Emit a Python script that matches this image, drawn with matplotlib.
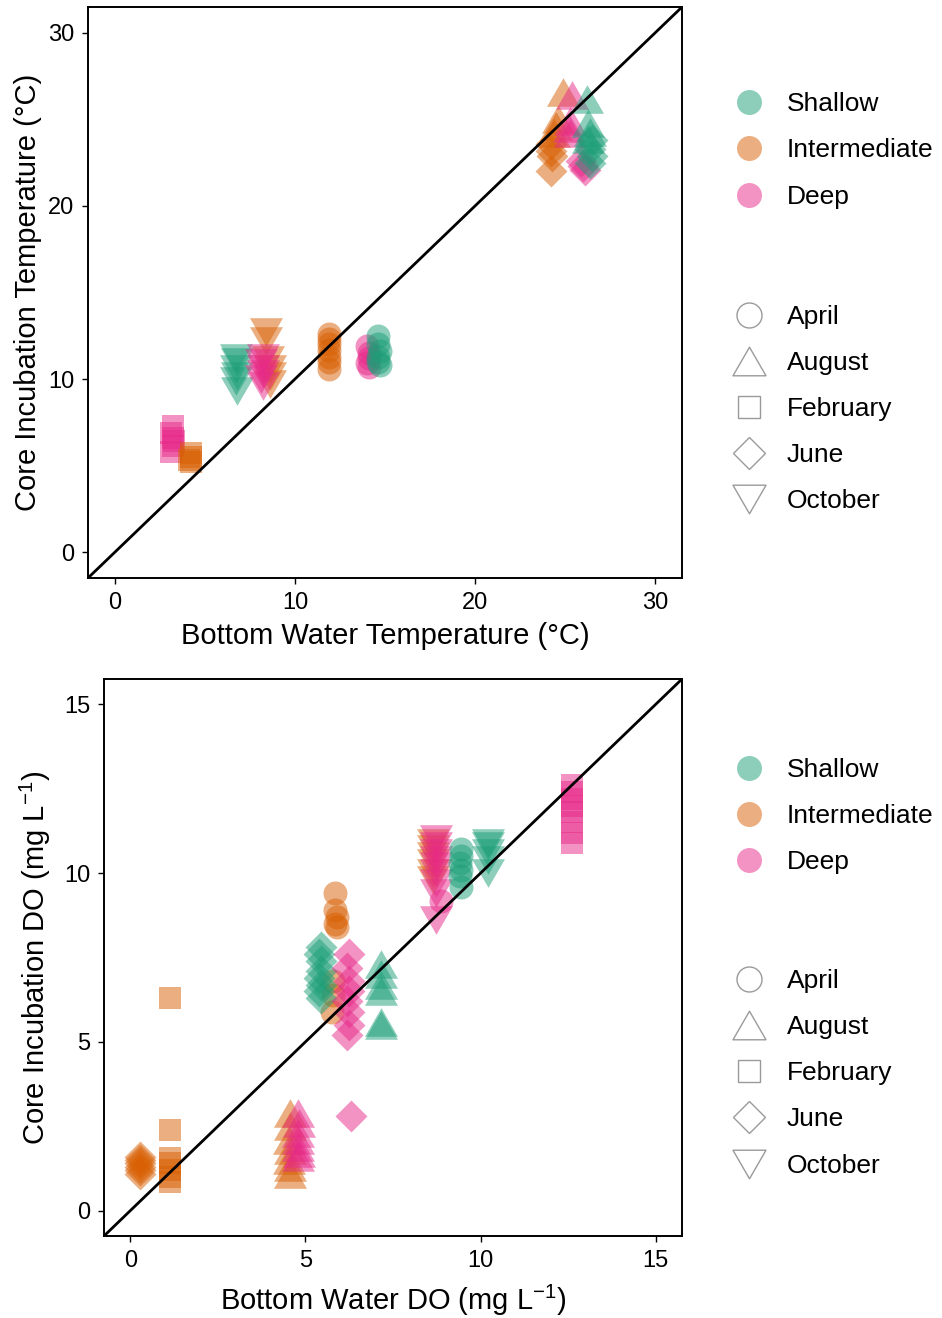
import matplotlib
matplotlib.use("Agg")
import matplotlib.pyplot as plt
from matplotlib.path import Path
from matplotlib.lines import Line2D
from matplotlib.colors import to_rgba
import pandas as pd

plt.rcParams['font.family'] = ['Liberation Sans', 'DejaVu Sans']
plt.rcParams['mathtext.default'] = 'regular'

# ---------------- categories ----------------
sites = ["Shallow", "Intermediate", "Deep"]
site_colors = ["#1B9E77", "#D95F02", "#E7298A"]
months = ["April", "August", "February", "June", "October"]

# ---------------- temperature panel (one entry per core) ----------------
temp_site = (["Deep"] * 6 + ["Intermediate"] * 4 + ["Shallow"] * 6 + ["Intermediate"] * 6 +
             ["Deep"] * 6 + ["Intermediate"] * 7 + ["Deep"] * 5 + ["Shallow"] * 6 +
             ["Intermediate"] * 4 + ["Intermediate"] * 4 + ["Deep"] * 3 + ["Deep"] * 4 +
             ["Shallow"] * 4 + ["Shallow"] * 4)
temp_month = (["February"] * 6 + ["February"] * 4 + ["October"] * 6 + ["October"] * 6 +
              ["October"] * 6 + ["April"] * 7 + ["April"] * 5 + ["April"] * 6 +
              ["June"] * 4 + ["August"] * 4 + ["June"] * 3 + ["August"] * 4 +
              ["August"] * 4 + ["June"] * 4)
temp_bottom = ([3.2, 3.1, 3.2, 3.3, 3.2, 3.1] +
               [4.2, 4.2, 4.1, 4.2] +
               [6.7, 6.8, 6.7, 6.8, 6.7, 6.8] +
               [8.4, 8.4, 8.5, 8.6, 8.6, 8.6] +
               [8.2, 8.1, 8.2, 8.2, 8.1, 8.2] +
               [11.9, 11.9, 11.9, 11.9, 11.9, 11.9, 11.9] +
               [14.0, 14.1, 14.1, 14.0, 14.1] +
               [14.6, 14.6, 14.7, 14.6, 14.6, 14.7] +
               [24.2, 24.2, 24.3, 24.2] +
               [24.9, 24.6, 24.5, 24.4] +
               [25.9, 26.0, 26.1] +
               [25.4, 25.3, 25.2, 25.3] +
               [26.2, 26.3, 26.4, 26.3] +
               [26.5, 26.4, 26.5, 26.4])
temp_core = ([7.3, 6.9, 6.6, 6.4, 6.1, 5.8] +
             [5.7, 5.5, 5.3, 5.2] +
             [11.2, 11.0, 10.6, 10.2, 9.9, 9.3] +
             [12.7, 12.2, 11.1, 10.6, 10.2, 9.7] +
             [11.2, 10.9, 10.6, 10.3, 10.0, 9.6] +
             [12.6, 12.3, 12.0, 11.7, 11.3, 11.0, 10.6] +
             [11.9, 11.5, 11.2, 10.9, 10.7] +
             [12.5, 12.0, 11.6, 11.3, 11.0, 10.8] +
             [23.6, 23.2, 22.9, 22.0] +
             [26.6, 25.0, 24.6, 24.2] +
             [22.6, 22.3, 22.1] +
             [26.4, 24.9, 24.5, 24.2] +
             [26.2, 24.8, 24.3, 23.9] +
             [23.8, 23.3, 22.9, 22.5])

# ---------------- dissolved oxygen panel ----------------
do_site = (["Intermediate"] * 6 + ["Intermediate"] * 7 + ["Intermediate"] * 7 + ["Deep"] * 7 +
           ["Intermediate"] * 8 + ["Shallow"] * 8 + ["Deep"] * 9 + ["Shallow"] * 6 +
           ["Intermediate"] * 6 + ["Deep"] * 9 + ["Deep"] * 1 + ["Shallow"] * 6 +
           ["Shallow"] * 5 + ["Deep"] * 8)
do_month = (["June"] * 6 + ["February"] * 7 + ["August"] * 7 + ["August"] * 7 +
            ["April"] * 8 + ["June"] * 8 + ["June"] * 9 + ["August"] * 6 +
            ["October"] * 6 + ["October"] * 9 + ["April"] * 1 + ["April"] * 6 +
            ["October"] * 5 + ["February"] * 8)
do_bottom = ([0.28, 0.27, 0.29, 0.28, 0.27, 0.29] +
             [1.14, 1.14, 1.14, 1.14, 1.14, 1.14, 1.14] +
             [4.55, 4.55, 4.52, 4.55, 4.52, 4.55, 4.55] +
             [4.8, 4.82, 4.8, 4.78, 4.8, 4.82, 4.8] +
             [5.85, 5.85, 5.9, 5.85, 5.9, 5.8, 5.8, 5.75] +
             [5.45, 5.4, 5.45, 5.45, 5.4, 5.45, 5.4, 5.45] +
             [6.25, 6.2, 6.25, 6.25, 6.2, 6.25, 6.25, 6.2, 6.3] +
             [7.15, 7.15, 7.15, 7.15, 7.15, 7.15] +
             [8.65, 8.65, 8.65, 8.65, 8.65, 8.65] +
             [8.72, 8.72, 8.72, 8.72, 8.72, 8.72, 8.72, 8.72, 8.72] +
             [8.86] +
             [9.43, 9.43, 9.4, 9.43, 9.4, 9.43] +
             [10.2, 10.2, 10.2, 10.2, 10.2] +
             [12.6, 12.6, 12.6, 12.6, 12.6, 12.6, 12.6, 12.6])
do_core = ([1.6, 1.5, 1.4, 1.3, 1.2, 1.1] +
           [6.3, 2.4, 1.55, 1.4, 1.2, 1.0, 0.85] +
           [2.9, 2.5, 2.1, 1.8, 1.5, 1.3, 1.1] +
           [2.9, 2.6, 2.3, 2.1, 1.9, 1.7, 1.6] +
           [9.4, 8.9, 8.7, 8.5, 8.4, 6.8, 6.4, 5.9] +
           [7.8, 7.6, 7.4, 7.1, 6.9, 6.7, 6.5, 6.3] +
           [7.6, 7.2, 6.8, 6.5, 6.2, 5.9, 5.5, 5.2, 2.8] +
           [7.3, 7.0, 6.7, 6.5, 5.6, 5.5] +
           [10.9, 10.7, 10.5, 10.3, 10.0, 9.8] +
           [11.0, 10.8, 10.6, 10.4, 10.2, 10.0, 9.7, 9.4, 8.6] +
           [9.17] +
           [10.7, 10.5, 10.3, 10.1, 9.9, 9.6] +
           [10.9, 10.8, 10.6, 10.4, 10.0] +
           [12.6, 12.4, 12.2, 12.0, 11.8, 11.5, 11.2, 10.9])

temp_ticks = [0, 10, 20, 30]
do_ticks = [0, 5, 10, 15]

# ---------------- styling ----------------
tri_up = Path([(-1, -0.866), (1, -0.866), (0, 0.866), (-1, -0.866)],
              [Path.MOVETO, Path.LINETO, Path.LINETO, Path.CLOSEPOLY])
tri_down = Path([(-1, 0.866), (1, 0.866), (0, -0.866), (-1, 0.866)],
                [Path.MOVETO, Path.LINETO, Path.LINETO, Path.CLOSEPOLY])
month_marker = {"April": "o", "August": tri_up, "February": "s", "June": "D", "October": tri_down}
# marker sizes in pixels (dpi = 100)
month_px = {"April": 24, "August": 33, "February": 23, "June": 22.6, "October": 33}
color_of = dict(zip(sites, site_colors))
ALPHA = 0.5
DPI = 100
W, H = 942, 1318


def px2pt(p):
    return p * 72.0 / DPI


def draw_panel(ax, site, month, xb, yc, lim, ticks):
    df = pd.DataFrame({"site": site, "month": month, "x": xb, "y": yc})
    order = list(dict.fromkeys(zip(df["site"], df["month"])))
    for s, m in order:
        d = df[(df["site"] == s) & (df["month"] == m)]
        ax.scatter(d["x"], d["y"], marker=month_marker[m], s=px2pt(month_px[m]) ** 2,
                   color=color_of[s], alpha=ALPHA, linewidths=0, zorder=2)
    ax.axline((0, 0), slope=1, color="black", lw=2.0, zorder=3)
    ax.set_xlim(*lim)
    ax.set_ylim(*lim)
    ax.set_xticks(ticks)
    ax.set_yticks(ticks)
    for sp in ax.spines.values():
        sp.set_linewidth(1.4)
        sp.set_color("black")
    ax.tick_params(direction="out", length=4, width=1, labelsize=17, pad=6, colors="black")


fig = plt.figure(figsize=(W / DPI, H / DPI), dpi=DPI)
fig.patch.set_facecolor("white")


def axes_px(l, t, r, b):
    return fig.add_axes([l / W, 1 - b / H, (r - l) / W, (b - t) / H])


ax1 = axes_px(88, 7, 682, 578)
draw_panel(ax1, temp_site, temp_month, temp_bottom, temp_core, (-1.5, 31.5), temp_ticks)
ax1.set_xlabel("Bottom Water Temperature (°C)", fontsize=21, labelpad=6)
ax1.set_ylabel("Core Incubation Temperature (°C)", fontsize=21, labelpad=4)

ax2 = axes_px(104, 679, 682, 1236)
draw_panel(ax2, do_site, do_month, do_bottom, do_core, (-0.75, 15.75), do_ticks)
ax2.set_xlabel("Bottom Water DO (mg L$^{\u2212 1}$)", fontsize=21, labelpad=8)
ax2.set_ylabel("Core Incubation DO (mg L$^{\u2212 1}$)", fontsize=21, labelpad=8)


# ---------------- legends ----------------
def legend_at(x_key, x_text, ys, labels, markers, sizes, face, edge):
    for y, lab, mk, sz, fc, ec in zip(ys, labels, markers, sizes, face, edge):
        fig.add_artist(Line2D([x_key / W], [1 - y / H], transform=fig.transFigure,
                              marker=mk, markersize=px2pt(sz), linestyle="none",
                              markerfacecolor=fc, markeredgecolor=ec,
                              markeredgewidth=1.0 if fc == "none" else 0))
        fig.text(x_text / W, 1 - (y + 2) / H, lab, fontsize=19, va="center", ha="left")


def color_rgba(c):
    r, g, b, _ = to_rgba(c)
    return (r, g, b, ALPHA)


for site_ys, month_ys in [([102, 148, 195], [315, 361, 407, 453, 499]),
                          ([768, 814, 860], [979, 1025, 1071, 1117, 1164])]:
    legend_at(749, 787, site_ys, sites, ["o"] * 3, [25] * 3,
              [color_rgba(c) for c in site_colors], ["none"] * 3)
    legend_at(749, 787, month_ys, months, [month_marker[m] for m in months],
              [25, 33, 23, 22.6, 33], ["none"] * 5, ["#9a9a9a"] * 5)

fig.savefig("out.png", dpi=DPI, facecolor="white")
